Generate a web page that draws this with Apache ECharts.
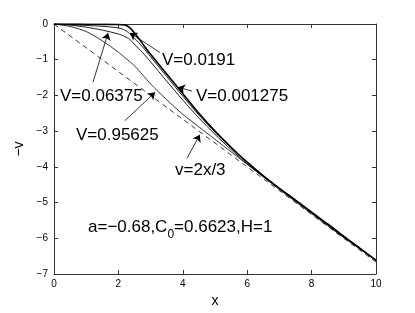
<!DOCTYPE html>
<html>
<head>
<meta charset="utf-8">
<script src="https://cdn.jsdelivr.net/npm/echarts@6/dist/echarts.min.js"></script>
<style>html,body{margin:0;padding:0;background:#fff}#c{width:415px;height:313px}</style>
</head>
<body>
<div id="c"></div>
<script>
// shared x grid
var xs = [0,0.5,1,1.5,2,2.2,2.35,2.5,2.75,3,3.5,4,4.5,5,5.5,6,6.5,7,7.5,8,8.5,9,9.5,10];
var yV001275 = [0,-0.002,-0.005,-0.01,-0.015,-0.03,-0.1,-0.25,-0.55,-0.85,-1.4,-1.95,-2.5,-3.0,-3.45,-3.87,-4.25,-4.6,-4.93,-5.27,-5.6,-5.95,-6.28,-6.62];
var yV0191 = [0,-0.02,-0.04,-0.065,-0.11,-0.17,-0.27,-0.4,-0.64,-0.92,-1.47,-2.02,-2.55,-3.03,-3.47,-3.88,-4.25,-4.6,-4.94,-5.28,-5.62,-5.96,-6.29,-6.62];
var yV06375 = [0,-0.03,-0.09,-0.17,-0.28,-0.35,-0.43,-0.57,-0.8,-1.06,-1.6,-2.13,-2.63,-3.09,-3.52,-3.92,-4.28,-4.63,-4.97,-5.31,-5.65,-5.98,-6.3,-6.62];
var yV95625 = [0,-0.07,-0.21,-0.47,-0.79,-0.94,-1.05,-1.17,-1.42,-1.68,-2.12,-2.53,-2.88,-3.23,-3.58,-3.93,-4.27,-4.61,-4.95,-5.28,-5.61,-5.94,-6.27,-6.61];
var xDash = [0,10];
var yDash = [0,-20/3];
var xTicks = [0,2,4,6,8,10];
var yTicks = [-7,-6,-5,-4,-3,-2,-1,0];
// annotation arrows: [fromX, fromY, toX, toY]
var arrows = [
  [3.29,-0.80,2.36,-0.25],
  [4.29,-1.88,3.85,-1.77],
  [1.21,-1.63,1.68,-0.25],
  [2.20,-2.71,3.14,-1.91],
  [4.13,-3.76,4.53,-3.10]
];
var labels = ['V=0.0191','V=0.001275','V=0.06375','V=0.95625','v=2x/3'];

function pairs(x,y){return x.map(function(v,i){return [v,y[i]];});}
var FONT = '"Liberation Sans", Arial, Helvetica, sans-serif';
var fmt = function(v){return String(v).replace('-','\u2212');};

var chart = echarts.init(document.getElementById('c'));
var lineBase = {type:'line', showSymbol:false, smooth:0.25, animation:false, silent:true};
var axLine = {show:true, onZero:false, lineStyle:{color:'#333', width:1}};
var axTick = {inside:true, length:4, lineStyle:{color:'#333'}};
var option = {
  animation:false,
  grid:{left:54, right:39, top:24, bottom:36},
  xAxis:[{type:'value', min:0, max:10, interval:2, position:'bottom',
    axisLine:axLine, axisTick:axTick,
    axisLabel:{fontSize:10, color:'#000', margin:5, fontFamily:FONT, formatter:fmt},
    splitLine:{show:false},
    name:'x', nameLocation:'middle', nameGap:20, nameTextStyle:{fontSize:14, color:'#000', fontFamily:FONT}},
   {type:'value', min:0, max:10, interval:2, position:'top',
    axisLine:axLine, axisTick:axTick,
    axisLabel:{show:false}, splitLine:{show:false}}],
  yAxis:[{type:'value', min:-7, max:0, interval:1, position:'left',
    axisLine:axLine, axisTick:axTick,
    axisLabel:{fontSize:10, color:'#000', margin:6, fontFamily:FONT, formatter:fmt},
    splitLine:{show:false},
    name:'\u2212v', nameLocation:'middle', nameGap:27, nameRotate:90, nameTextStyle:{fontSize:14, color:'#000', fontFamily:FONT}},
   {type:'value', min:-7, max:0, interval:1, position:'right',
    axisLine:axLine, axisTick:axTick,
    axisLabel:{show:false}, splitLine:{show:false}}],
  series:[
    Object.assign({}, lineBase, {name:'dash', smooth:false, data:pairs(xDash,yDash), lineStyle:{color:'#000', width:0.8, type:[5,4]},
      markLine:{silent:true, animation:false, symbol:['none','arrow'], symbolSize:7, label:{show:false},
        lineStyle:{color:'#000', width:0.8, type:'solid'},
        data:arrows.map(function(a){return [{coord:[a[0],a[1]]},{coord:[a[2],a[3]]}];})}}),
    Object.assign({}, lineBase, {name:'V=0.95625', data:pairs(xs,yV95625), lineStyle:{color:'#000', width:0.8}}),
    Object.assign({}, lineBase, {name:'V=0.06375', data:pairs(xs,yV06375), lineStyle:{color:'#000', width:0.9}}),
    Object.assign({}, lineBase, {name:'V=0.0191', data:pairs(xs,yV0191), lineStyle:{color:'#000', width:0.9}}),
    Object.assign({}, lineBase, {name:'V=0.001275', data:pairs(xs,yV001275), lineStyle:{color:'#000', width:1.6}})
  ],
  graphic:[
    {type:'text', left:162, top:52, style:{text:labels[0], fontSize:17, fill:'#000', fontFamily:FONT}},
    {type:'text', left:196, top:88, style:{text:labels[1], fontSize:17, fill:'#000', fontFamily:FONT}},
    {type:'text', left:60, top:88, style:{text:labels[2], fontSize:17, fill:'#000', fontFamily:FONT}},
    {type:'text', left:76, top:127, style:{text:labels[3], fontSize:17, fill:'#000', fontFamily:FONT}},
    {type:'text', left:175, top:162, style:{text:labels[4], fontSize:17, fill:'#000', fontFamily:FONT}},
    {type:'text', left:88, top:219, style:{text:'{a|a=\u22120.68,C}{s|0}{a|=0.6623,H=1}', fill:'#000', fontFamily:FONT,
      rich:{a:{fontSize:17, fontFamily:FONT, fill:'#000', verticalAlign:'top'}, s:{fontSize:12, fontFamily:FONT, fill:'#000', padding:[10,0,0,0]}}}}
  ]
};
chart.setOption(option);
</script>
</body>
</html>
